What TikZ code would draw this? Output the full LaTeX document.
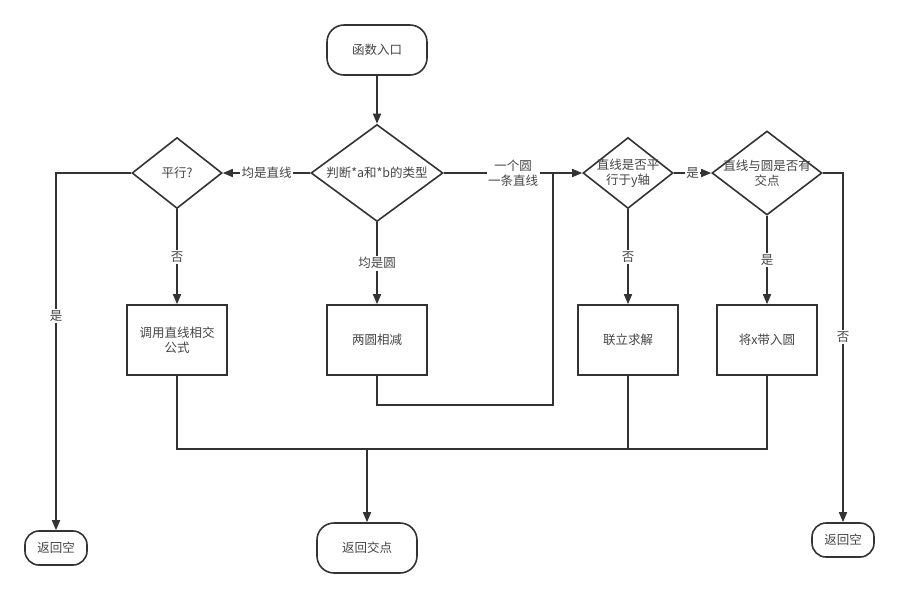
\documentclass[tikz,border=0pt]{standalone}
\usepackage{fontspec}
\setmainfont{Noto Sans CJK SC}
\usetikzlibrary{positioning,arrows.meta,shapes.geometric}
\definecolor{LineGray}{RGB}{51,51,51}
\definecolor{TextGray}{RGB}{70,70,70}

\begin{document}
\begin{tikzpicture}[
    x=1pt, y=-1pt,
    font=\fontsize{12.5}{15}\selectfont, text=TextGray,
    terminal/.style={rectangle, rounded corners=14pt, draw=LineGray, line width=1.6pt,
        fill=white, inner sep=0pt},
    process/.style={rectangle, draw=LineGray, line width=1.6pt, fill=white,
        minimum width=100pt, minimum height=70pt, align=center, inner sep=0pt},
    decision/.style={diamond, draw=LineGray, line width=1.6pt, fill=white, inner sep=0pt},
    dtext/.style={align=center, inner sep=0pt},
    elabel/.style={fill=white, inner sep=1.5pt, align=center},
    flow/.style={draw=LineGray, line width=1.6pt, -{Triangle[length=10pt, width=8pt]}},
    link/.style={draw=LineGray, line width=1.6pt},
]
\useasboundingbox (0,0) rectangle (899,598);

% start and first decision
\node[terminal, minimum width=100pt, minimum height=50pt, rounded corners=17pt] (entry) at (377,50) {函数入口};
\node[decision, minimum width=132pt, minimum height=97pt,
    label={[dtext]center:判断*a和*b的类型}] (kind) at (377,173) {};

% decisions in the row
\node[decision, minimum width=90pt, minimum height=71pt,
    label={[dtext]center:平行?}] (par) at (177,173) {};
\node[decision, minimum width=90pt, minimum height=71pt,
    label={[dtext]center:直线是否平\\行于y轴}] (vert) at (628,173) {};
\node[decision, minimum width=110pt, minimum height=84pt,
    label={[dtext]center:直线与圆是否有\\交点}] (meet) at (767,173) {};

% processes
\node[process] (lineform) at (177,340) {调用直线相交\\公式};
\node[process] (subtract) at (377,340) {两圆相减};
\node[process] (solve) at (628,340) {联立求解};
\node[process] (subst) at (767,340) {将x带入圆};

% ends
\node[terminal, minimum width=62pt, minimum height=34pt] (noneL) at (56,548) {返回空};
\node[terminal, minimum width=100pt, minimum height=50pt, rounded corners=17pt] (result) at (367,548) {返回交点};
\node[terminal, minimum width=62pt, minimum height=34pt] (noneR) at (843,540) {返回空};

\coordinate (bend) at (553,405);
\coordinate (bus) at (367,449);

\draw[flow] (entry) -- (kind);
\draw[flow] (kind) -- node[elabel] {均是直线} (par);
\draw[flow] (kind) -- node[elabel] {均是圆} (subtract);
\draw[flow] (kind) -- node[elabel] {一个圆\\一条直线} (vert);
\draw[flow] (par) -- node[elabel] {否} (lineform);
\draw[flow] (par.west) -| node[elabel, pos=0.7] {是} (noneL);
\draw[flow] (vert) -- node[elabel] {否} (solve);
\draw[flow] (vert) -- node[elabel] {是} (meet);
\draw[flow] (meet) -- node[elabel] {是} (subst);
\draw[flow] (meet.east) -| node[elabel, pos=0.735] {否} (noneR);

\draw[link] (subtract.south) |- (bend) -- (bend |- kind.east);
\draw[link] (lineform.south) |- (bus);
\draw[link] (subst.south) |- (bus);
\draw[link] (solve.south) -- (solve.south |- bus);
\draw[flow] (bus) -- (result);
\end{tikzpicture}
\end{document}
